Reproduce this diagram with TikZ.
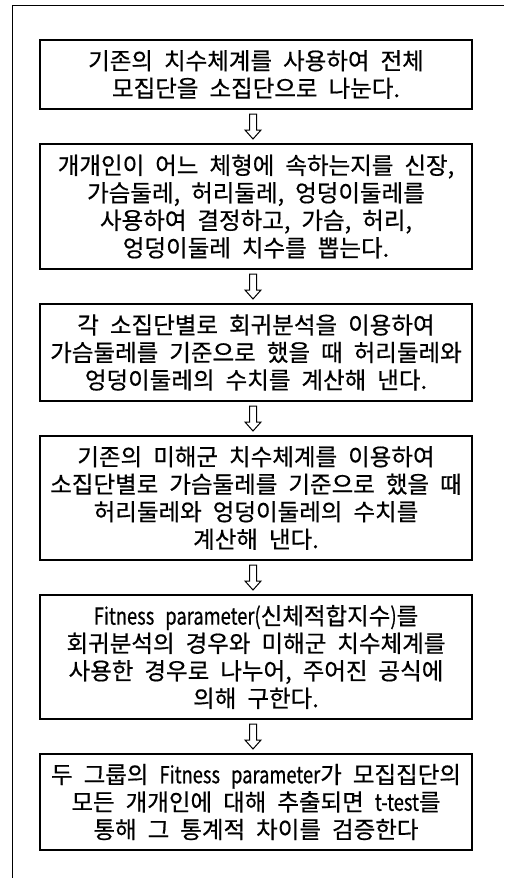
\documentclass[tikz,border=0pt]{standalone}
\usepackage{fontspec}
\usetikzlibrary{calc}
\setmainfont{Noto Sans CJK KR}[FakeBold=0.6]
\newfontfamily\latn{Noto Sans CJK KR}[FakeBold=0.6,FakeStretch=0.78]
\begin{document}
\begin{tikzpicture}[x=1pt,y=1pt,
  stepbox/.style={draw, line width=1.1pt, minimum width=432pt, inner sep=0pt, align=center,
    font={\fontsize{23.5}{27.5}\selectfont\spaceskip=11pt plus 1pt minus 1pt\relax}},
  hollowdown/.pic={\draw[line width=1pt, line join=miter] (-3.5,12.5) -- (-3.5,-3.5) -- (-8,-3.5) -- (0,-12.5) -- (8,-3.5) -- (3.5,-3.5) -- (3.5,12.5) -- cycle;}
]
\useasboundingbox (0,0) rectangle (504,-878);
\draw[line width=1.8pt] (12.5,-878) -- (12.5,-5.5) -- (504,-5.5);

\node[stepbox, minimum height=69pt] (b1) at (256,-74.5) {기존의 치수체계를 사용하여 전체\\모집단을 소집단으로 나눈다.};
\node[stepbox, minimum height=125pt] (b2) at (256,-206.5) {개개인이 어느 체형에 속하는지를 신장,\\가슴둘레, 허리둘레, 엉덩이둘레를\\사용하여 결정하고, 가슴, 허리,\\엉덩이둘레 치수를 뽑는다.};
\node[stepbox, minimum height=97pt] (b3) at (256,-352.5) {각 소집단별로 회귀분석을 이용하여\\가슴둘레를 기준으로 했을 때 허리둘레와\\엉덩이둘레의 수치를 계산해 낸다.};
\node[stepbox, minimum height=124pt] (b4) at (256,-498) {기존의 미해군 치수체계를 이용하여\\소집단별로 가슴둘레를 기준으로 했을 때\\허리둘레와 엉덩이둘레의 수치를\\계산해 낸다.};
\node[stepbox, minimum height=124pt] (b5) at (256,-657) {{\latn Fitness parameter(}신체적합지수{\latn )}를\\회귀분석의 경우와 미해군 치수체계를\\사용한 경우로 나누어, 주어진 공식에\\의해 구한다.};
\node[stepbox, minimum height=96pt] (b6) at (256,-802) {두 그룹의 {\latn Fitness parameter}가 모집집단의\\모든 개개인에 대해 추출되면 {\latn t-test}를\\통해 그 통계적 차이를 검증한다};

\foreach \a/\b in {b1/b2,b2/b3,b3/b4,b4/b5,b5/b6}{
  \path ([xshift=-3pt]$(\a.south)!0.5!(\b.north)$) coordinate (m\a) pic {hollowdown};
}
\end{tikzpicture}
\end{document}
